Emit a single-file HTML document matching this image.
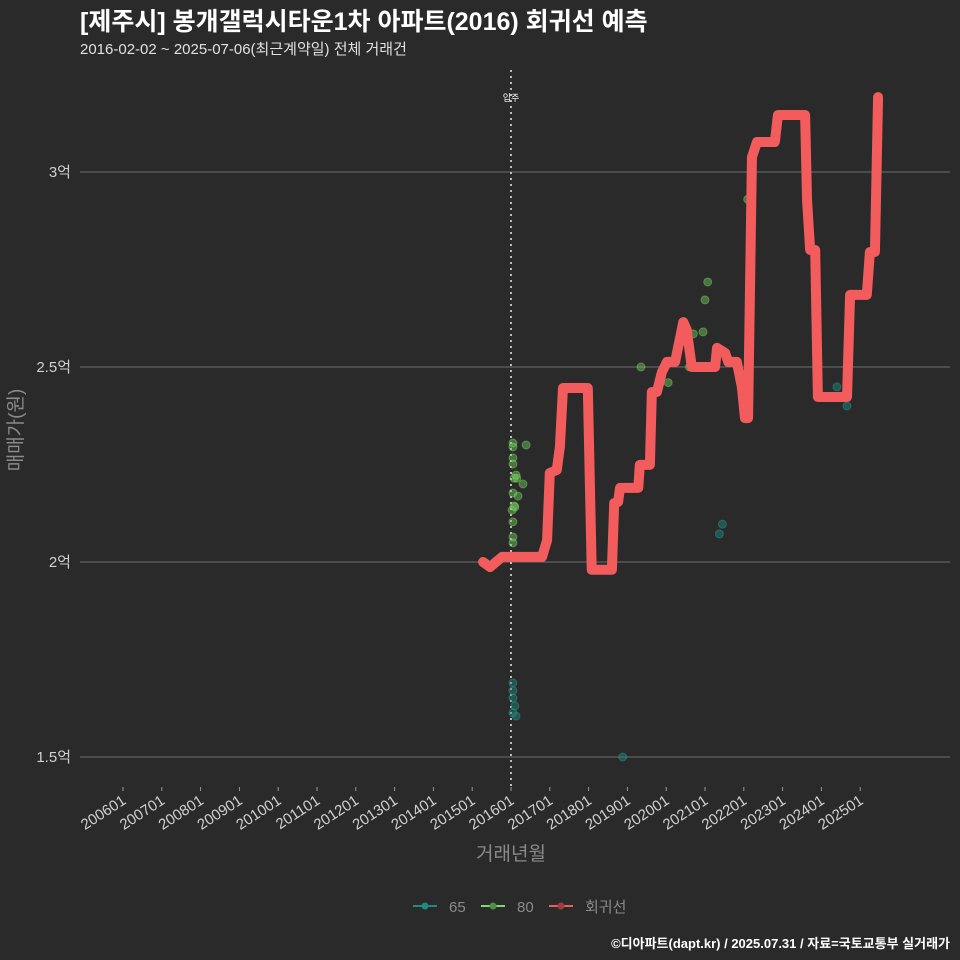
<!DOCTYPE html>
<html><head><meta charset="utf-8"><style>
body{margin:0;background:#2a2a2b;}
svg{display:block;font-family:"Liberation Sans","Noto Sans CJK KR",sans-serif;}
</style></head><body>
<svg id="c" width="960" height="960">
<rect width="960" height="960" fill="#2a2a2b"/>
<text x="80" y="30" fill="#ffffff" font-size="25" font-weight="bold">[제주시] 봉개갤럭시타운1차 아파트(2016) 회귀선 예측</text>
<text x="80" y="54" fill="#e0e0e0" font-size="15">2016-02-02 ~ 2025-07-06(최근계약일) 전체 거래건</text>
<g id="grid"></g><g id="pts"></g><g id="line"></g><g id="axes"></g>
<text transform="translate(22,430) rotate(-90)" text-anchor="middle" fill="#8a8a8a" font-size="19">매매가(원)</text>
<text x="511" y="860" text-anchor="middle" fill="#8a8a8a" font-size="19">거래년월</text>
<g>
<g><line x1="413" y1="906" x2="437" y2="906" stroke="#1e8a80" stroke-width="2"/><circle cx="425" cy="906" r="3.5" fill="#1e8a80"/><text x="449" y="912" fill="#8a8a8a" font-size="15">65</text></g>
<g><line x1="481" y1="906" x2="505" y2="906" stroke="#7ed96a" stroke-width="2"/><circle cx="493" cy="906" r="3.5" fill="#4f8f45"/><text x="517" y="912" fill="#8a8a8a" font-size="15">80</text></g>
<g><line x1="549" y1="906" x2="573" y2="906" stroke="#f25c5c" stroke-width="2"/><circle cx="561" cy="906" r="3.5" fill="#a03c3c"/><text x="585" y="912" fill="#8a8a8a" font-size="15">회귀선</text></g>
</g>
<text x="950" y="948" text-anchor="end" fill="#ffffff" font-size="13" font-weight="bold">©디아파트(dapt.kr) / 2025.07.31 / 자료=국토교통부 실거래가</text>
</svg>
<script>
const yTicks=[1.5,2,2.5,3];
const yTickLabels=["1.5억","2억","2.5억","3억"];
const xTickYears=[2006,2007,2008,2009,2010,2011,2012,2013,2014,2015,2016,2017,2018,2019,2020,2021,2022,2023,2024,2025];
const xTickLabels=xTickYears.map(y=>y+"01");
const lineT=[2015.28,2015.46,2015.77,2016.80,2016.93,2017.0,2017.18,2017.26,2017.34,2017.98,2018.08,2018.60,2018.66,2018.76,2018.81,2019.28,2019.32,2019.58,2019.63,2019.76,2019.89,2020.02,2020.23,2020.44,2020.53,2020.66,2021.26,2021.31,2021.52,2021.60,2021.82,2021.95,2022.03,2022.11,2022.21,2022.34,2022.80,2022.88,2023.58,2023.63,2023.71,2023.84,2023.91,2024.66,2024.74,2025.17,2025.25,2025.38,2025.46];
const lineV=[2.00,1.987,2.013,2.013,2.056,2.228,2.236,2.295,2.446,2.446,1.98,1.98,2.151,2.154,2.19,2.19,2.249,2.249,2.436,2.436,2.487,2.513,2.513,2.615,2.595,2.5,2.5,2.549,2.536,2.513,2.513,2.449,2.369,2.369,3.038,3.077,3.077,3.146,3.146,2.928,2.8,2.8,2.423,2.423,2.685,2.685,2.795,2.795,3.192];
const p80T=[2016.05,2016.05,2016.05,2016.05,2016.08,2016.15,2016.05,2016.08,2016.03,2016.05,2016.05,2016.05,2016.39,2016.31,2016.10,2016.18,2016.13,2019.35,2020.05,2020.7,2021.0,2021.07,2020.95,2020.6,2022.1];
const p80V=[2.305,2.295,2.267,2.251,2.215,2.215,2.177,2.144,2.133,2.103,2.064,2.049,2.300,2.200,2.141,2.169,2.223,2.500,2.46,2.585,2.672,2.718,2.590,2.5,2.93];
const p65T=[2016.05,2016.05,2016.05,2016.1,2016.13,2016.05,2018.88,2021.37,2021.45,2024.4,2024.66];
const p65V=[1.69,1.67,1.651,1.631,1.605,1.613,1.5,2.072,2.097,2.449,2.4];
const X=t=>511+(t-2016)*38.8;
const Y=v=>562-(v-2)*390;
const NS="http://www.w3.org/2000/svg";
function mk(tag,attrs,parent){const e=document.createElementNS(NS,tag);for(const k in attrs)e.setAttribute(k,attrs[k]);document.getElementById(parent).appendChild(e);return e;}
yTicks.forEach((v,i)=>{
 const l=mk('line',{x1:80,x2:950,y1:Y(v),y2:Y(v),stroke:'#6e6e6e',"stroke-width":1},'grid');
 
 
 const t=mk('text',{x:71,y:Y(v)+5,"text-anchor":"end",fill:'#d0d0d0',"font-size":15},'axes');
 t.textContent=yTickLabels[i];
 
 
});
xTickYears.forEach((yr,i)=>{
 const x=X(yr);
 const tk=mk('line',{x1:x,x2:x,y1:787,y2:791,stroke:'#999'},'axes');
 
 
 const t=mk('text',{transform:`translate(${x+4},${803}) rotate(-33)`,"text-anchor":"end",fill:'#d0d0d0',"font-size":15},'axes');
 t.textContent=xTickLabels[i];
 
 
});
const vl=mk('line',{x1:X(2016),x2:X(2016),y1:70,y2:786,stroke:'#bbb',"stroke-width":2,"stroke-dasharray":"2,4"},'grid');


const vt=mk('text',{x:X(2016),y:101,"text-anchor":"middle",fill:'#fff',"font-size":9},'grid');
vt.textContent='입주';


p65T.forEach((t,i)=>{
 const c=mk('circle',{cx:X(t),cy:Y(p65V[i]),r:4,fill:'#1e8a80',"fill-opacity":0.45,stroke:'#2aa89a',"stroke-opacity":0.4},'pts');
 
 
});
p80T.forEach((t,i)=>{
 const c=mk('circle',{cx:X(t),cy:Y(p80V[i]),r:4,fill:'#6fcf5a',"fill-opacity":0.45,stroke:'#8be070',"stroke-opacity":0.4},'pts');
 
 
});
const pl=mk('polyline',{points:lineT.map((t,i)=>X(t)+','+Y(lineV[i])).join(' '),fill:'none',stroke:'#f25c5c',"stroke-width":10,"stroke-linejoin":"round","stroke-linecap":"round"},'line');


</script>
</body></html>
